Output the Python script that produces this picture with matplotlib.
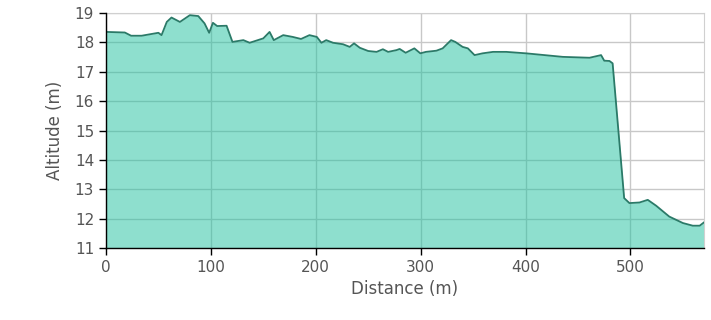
import matplotlib
matplotlib.use("Agg")
import matplotlib.pyplot as plt

distance = [0, 18, 24, 34, 50, 53, 58, 62.5, 70.5, 80, 88, 94, 98.4, 102, 106, 115, 120.6,
            131, 137, 150, 156, 160, 169, 178, 186, 194, 201, 205.4, 210, 216.5, 226, 232.4,
            236.5, 242, 250, 258, 264, 269, 277, 280, 285.7, 294, 299.7, 305, 315, 321, 329,
            333, 340, 345, 351.4, 359, 369, 381.6, 400.6, 435.5, 461, 472, 475, 480, 483,
            494, 499, 508.6, 516.5, 524.5, 537, 550, 559.4, 566, 570]
altitude = [18.36, 18.34, 18.23, 18.23, 18.33, 18.25, 18.70, 18.85, 18.70, 18.93, 18.90, 18.65,
            18.33, 18.67, 18.56, 18.57, 18.02, 18.08, 17.99, 18.14, 18.36, 18.08, 18.25, 18.19,
            18.12, 18.25, 18.19, 17.99, 18.08, 17.99, 17.94, 17.85, 17.97, 17.82, 17.71, 17.68,
            17.77, 17.68, 17.74, 17.78, 17.65, 17.80, 17.63, 17.68, 17.72, 17.80, 18.08, 18.02,
            17.85, 17.80, 17.57, 17.63, 17.68, 17.68, 17.63, 17.51, 17.48, 17.57, 17.38, 17.37,
            17.29, 12.70, 12.53, 12.55, 12.64, 12.44, 12.07, 11.85, 11.76, 11.76, 11.87]
x_ticks = [0, 100, 200, 300, 400, 500]
y_ticks = [11, 12, 13, 14, 15, 16, 17, 18, 19]

fig = plt.figure(figsize=(7.11, 3.2), dpi=100)
ax = fig.add_axes([0.149, 0.225, 0.841, 0.734])

ax.grid(True, color="#c8c8c8", linewidth=1.0, zorder=0)
ax.set_axisbelow(True)
ax.fill_between(distance, 11, altitude, color="#1fc19f", alpha=0.5, zorder=1, linewidth=0)
ax.plot(distance, altitude, color="#2b7a68", linewidth=1.3, zorder=3)

ax.set_xlim(0, 570)
ax.set_ylim(11, 19)
ax.set_xticks(x_ticks)
ax.set_yticks(y_ticks)

for s in ["top", "right"]:
    ax.spines[s].set_color("#d0d0d0")
    ax.spines[s].set_linewidth(0.8)
for s in ["left", "bottom"]:
    ax.spines[s].set_color("black")
    ax.spines[s].set_linewidth(1.0)
    ax.spines[s].set_zorder(4)

ax.tick_params(axis="both", direction="out", length=5, width=1, color="black",
               labelcolor="#555555", labelsize=11)
ax.set_xlabel("Distance (m)", color="#555555", fontsize=12)
ax.set_ylabel("Altitude (m)", color="#555555", fontsize=12, labelpad=8)

fig.savefig("out.png", dpi=100)
